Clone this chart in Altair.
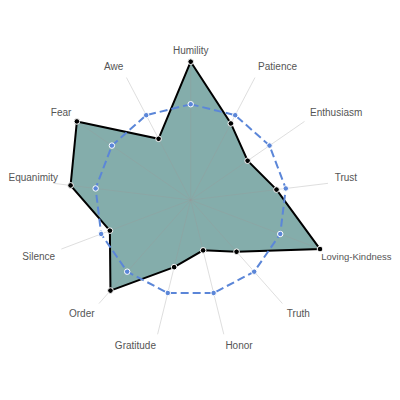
import math
import altair as alt
import pandas as pd

categories = ["Humility", "Patience", "Enthusiasm", "Trust", "Loving-Kindness", "Truth",
              "Honor", "Gratitude", "Order", "Silence", "Equanimity", "Fear", "Awe"]
scores = [8, 5, 4, 5, 8, 4, 3, 4, 7, 5, 7, 8, 4]
average = [5.54, 5.54, 5.54, 5.54, 5.54, 5.54, 5.54, 5.54, 5.54, 5.54, 5.54, 5.54, 5.54]

N = len(categories)
df = pd.DataFrame({"category": categories, "idx": list(range(N)),
                   "score": scores, "avg": average})

UNIT = 138.3 / 8.0
W = 384
H = 384
CX, CY = 182.7, 192.0
xs = alt.Scale(domain=[-CX / UNIT, (W - CX) / UNIT], nice=False, zero=False)
ys = alt.Scale(domain=[(CY - H) / UNIT, CY / UNIT], nice=False, zero=False)
RMAX = 8.0
RLAB_PX = 145.0
RLAB = RLAB_PX / UNIT

base = alt.Chart(df).transform_calculate(
    ang=f"datum.idx * 2 * PI / {N}"
).transform_calculate(
    s="sin(datum.ang)", c="cos(datum.ang)"
)

def XY(xf, yf):
    return dict(x=alt.X(f"{xf}:Q", scale=xs, axis=None),
                y=alt.Y(f"{yf}:Q", scale=ys, axis=None))

poly = base.transform_calculate(px="datum.score * datum.s", py="datum.score * datum.c")
avgd = base.transform_calculate(px="datum.avg * datum.s", py="datum.avg * datum.c")

fill = poly.mark_line(interpolate="linear-closed", fill="#84adab", strokeWidth=0,
                      strokeOpacity=0).encode(order="idx:Q", **XY("px", "py"))

spokes = base.transform_calculate(
    x0="0", y0="0", x1=f"{RMAX} * datum.s", y1=f"{RMAX} * datum.c"
).mark_rule(color="#999999", opacity=0.32, strokeWidth=1).encode(
    x=alt.X("x0:Q", scale=xs, axis=None), y=alt.Y("y0:Q", scale=ys, axis=None),
    x2="x1:Q", y2="y1:Q")

outline = poly.mark_line(interpolate="linear-closed", color="#000000",
                         strokeWidth=2).encode(order="idx:Q", **XY("px", "py"))

avg_line = avgd.mark_line(interpolate="linear-closed", color="#5b86d8", strokeWidth=2,
                          strokeDash=[8, 4]).encode(order="idx:Q", **XY("px", "py"))
avg_pts = avgd.mark_point(filled=True, size=30, color="#5b86d8", stroke="white",
                          strokeWidth=1, opacity=1).encode(**XY("px", "py"))
score_pts = poly.mark_point(filled=True, size=32, color="#000000", stroke="white",
                            strokeWidth=1, opacity=1).encode(**XY("px", "py"))

lab = base.transform_calculate(lx=f"{RLAB} * datum.s", ly=f"{RLAB} * datum.c")

def labels(cond, align, dy, dx=0, size=10):
    return lab.transform_filter(cond).mark_text(
        align=align, baseline="middle", dx=dx, dy=dy, fontSize=size,
        font="Liberation Sans, Arial, sans-serif", color="#555555"
    ).encode(text="category:N", **XY("lx", "ly"))

def anchor_x(i):
    return CX + RLAB_PX * math.sin(i * 2 * math.pi / N)

# labels that would run past the page edges are pulled inside
left_idx = 10
right_idx = 4
lab_layers = [
    labels("abs(datum.s) < 0.05", "center", -4.5),
    labels("datum.s >= 0.05 && datum.c > 0", "left", -4.5),
    labels(f"datum.s >= 0.05 && datum.c <= 0 && datum.idx != {right_idx}", "left", 5.5),
    labels(f"datum.idx == {right_idx}", "right", 5.5,
           dx=(W - 0.5) - anchor_x(right_idx), size=9.5),
    labels("datum.s <= -0.05 && datum.c <= 0", "right", 5.5),
    labels(f"datum.s <= -0.05 && datum.c > 0 && datum.idx != {left_idx}", "right", -4.5),
    labels(f"datum.idx == {left_idx}", "left", -4.5, dx=-(anchor_x(left_idx) - 0.5)),
]

chart = alt.layer(fill, spokes, outline, avg_line, avg_pts, score_pts, *lab_layers).properties(
    width=W, height=H, padding=0, autosize=alt.AutoSizeParams(type="none"),
    background="white"
).configure_view(stroke=None)

chart.save("out.html", embed_options={"renderer": "svg", "actions": False})
